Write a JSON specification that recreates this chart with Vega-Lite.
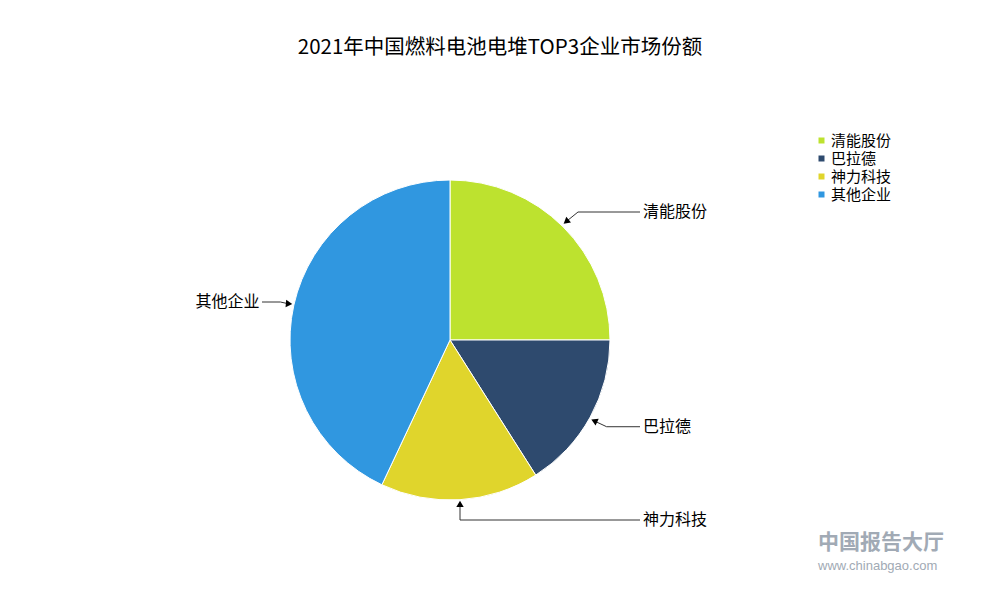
{
  "$schema": "https://vega.github.io/schema/vega-lite/v6.json",
  "autosize": {"type": "none"},
  "width": 800,
  "height": 480,
  "padding": {"left": 50, "top": 100, "right": 150, "bottom": 20},
  "background": "white",
  "title": {
    "text": "2021年中国燃料电池电堆TOP3企业市场份额",
    "fontSize": 20.5,
    "fontWeight": "normal",
    "font": "Noto Sans CJK SC",
    "color": "#000",
    "anchor": "middle",
    "dx": 50,
    "offset": 42
  },
  "config": {"view": {"stroke": null}},
  "datasets": {
    "pie": [
      {"name": "清能股份", "value": 25, "idx": 1},
      {"name": "巴拉德", "value": 16, "idx": 2},
      {"name": "神力科技", "value": 16, "idx": 3},
      {"name": "其他企业", "value": 43, "idx": 4}
    ],
    "leaders": [
      {"label": "清能股份", "seq": 1, "x": 0.72, "y": 0.735},
      {"label": "清能股份", "seq": 2, "x": 0.8, "y": 0.8},
      {"label": "清能股份", "seq": 3, "x": 1.1875, "y": 0.8},
      {"label": "巴拉德", "seq": 1, "x": 0.9, "y": -0.505},
      {"label": "巴拉德", "seq": 2, "x": 0.979, "y": -0.542},
      {"label": "巴拉德", "seq": 3, "x": 1.1875, "y": -0.542},
      {"label": "神力科技", "seq": 1, "x": 0.0625, "y": -1.03},
      {"label": "神力科技", "seq": 2, "x": 0.0625, "y": -1.125},
      {"label": "神力科技", "seq": 3, "x": 1.1875, "y": -1.125},
      {"label": "其他企业", "seq": 1, "x": -1.175, "y": 0.2375},
      {"label": "其他企业", "seq": 2, "x": -1.06, "y": 0.2375},
      {"label": "其他企业", "seq": 3, "x": -1.0125, "y": 0.227}
    ],
    "arrows": [
      {"label": "清能股份", "x": 0.731, "y": 0.744, "angle": 231},
      {"label": "巴拉德", "x": 0.9075, "y": -0.5075, "angle": 295},
      {"label": "神力科技", "x": 0.0625, "y": -1.031, "angle": 0},
      {"label": "其他企业", "x": -1.0125, "y": 0.227, "angle": 95}
    ],
    "labels": [
      {"label": "清能股份", "x": 1.206, "y": 0.8, "side": "right"},
      {"label": "巴拉德", "x": 1.206, "y": -0.542, "side": "right"},
      {"label": "神力科技", "x": 1.206, "y": -1.125, "side": "right"},
      {"label": "其他企业", "x": -1.19, "y": 0.2375, "side": "left"}
    ],
    "watermark": [
      {"text": "中国报告大厅", "x": 2.3, "y": -1.27, "kind": "big"},
      {"text": "www.chinabgao.com", "x": 2.3, "y": -1.41, "kind": "small"}
    ]
  },
  "layer": [
    {
      "data": {"name": "pie"},
      "mark": {"type": "arc", "outerRadius": 160, "stroke": "#ffffff", "strokeWidth": 1},
      "encoding": {
        "theta": {"field": "value", "type": "quantitative", "stack": true},
        "order": {"field": "idx", "type": "quantitative"},
        "color": {
          "field": "name",
          "type": "nominal",
          "scale": {
            "domain": ["清能股份", "巴拉德", "神力科技", "其他企业"],
            "range": ["#BDE22F", "#2E4A6E", "#E0D52C", "#3097E0"]
          },
          "legend": {
            "orient": "none",
            "legendX": 764,
            "legendY": 33,
            "title": null,
            "symbolType": "square",
            "symbolSize": 36,
            "symbolStrokeWidth": 0,
            "labelFontSize": 15,
            "labelFont": "Noto Sans CJK SC",
            "labelColor": "#000",
            "rowPadding": 2,
            "labelOffset": 2
          }
        }
      }
    },
    {
      "data": {"name": "leaders"},
      "mark": {"type": "line", "color": "#333333", "strokeWidth": 1},
      "encoding": {
        "x": {"field": "x", "type": "quantitative", "scale": {"domain": [-2.5, 2.5], "nice": false, "zero": false}, "axis": null},
        "y": {"field": "y", "type": "quantitative", "scale": {"domain": [-1.5, 1.5], "nice": false, "zero": false}, "axis": null},
        "detail": {"field": "label", "type": "nominal"},
        "order": {"field": "seq", "type": "quantitative"}
      }
    },
    {
      "data": {"name": "arrows"},
      "mark": {"type": "point", "shape": "triangle", "filled": true, "color": "#000000", "size": 55, "opacity": 1},
      "encoding": {
        "x": {"field": "x", "type": "quantitative"},
        "y": {"field": "y", "type": "quantitative"},
        "angle": {"field": "angle", "type": "quantitative", "scale": null}
      }
    },
    {
      "data": {"name": "labels"},
      "transform": [{"filter": "datum.side === 'right'"}],
      "mark": {"type": "text", "align": "left", "baseline": "middle", "fontSize": 16, "font": "Noto Sans CJK SC", "color": "#000"},
      "encoding": {
        "x": {"field": "x", "type": "quantitative"},
        "y": {"field": "y", "type": "quantitative"},
        "text": {"field": "label"}
      }
    },
    {
      "data": {"name": "labels"},
      "transform": [{"filter": "datum.side === 'left'"}],
      "mark": {"type": "text", "align": "right", "baseline": "middle", "fontSize": 16, "font": "Noto Sans CJK SC", "color": "#000"},
      "encoding": {
        "x": {"field": "x", "type": "quantitative"},
        "y": {"field": "y", "type": "quantitative"},
        "text": {"field": "label"}
      }
    },
    {
      "data": {"name": "watermark"},
      "transform": [{"filter": "datum.kind === 'big'"}],
      "mark": {"type": "text", "align": "left", "baseline": "middle", "fontSize": 21, "font": "Noto Sans CJK SC", "fontWeight": "bold", "color": "#8a95a3", "opacity": 0.8},
      "encoding": {
        "x": {"field": "x", "type": "quantitative"},
        "y": {"field": "y", "type": "quantitative"},
        "text": {"field": "text"}
      }
    },
    {
      "data": {"name": "watermark"},
      "transform": [{"filter": "datum.kind === 'small'"}],
      "mark": {"type": "text", "align": "left", "baseline": "middle", "fontSize": 13, "font": "Liberation Sans", "color": "#8a95a3", "opacity": 0.8},
      "encoding": {
        "x": {"field": "x", "type": "quantitative"},
        "y": {"field": "y", "type": "quantitative"},
        "text": {"field": "text"}
      }
    }
  ]
}
